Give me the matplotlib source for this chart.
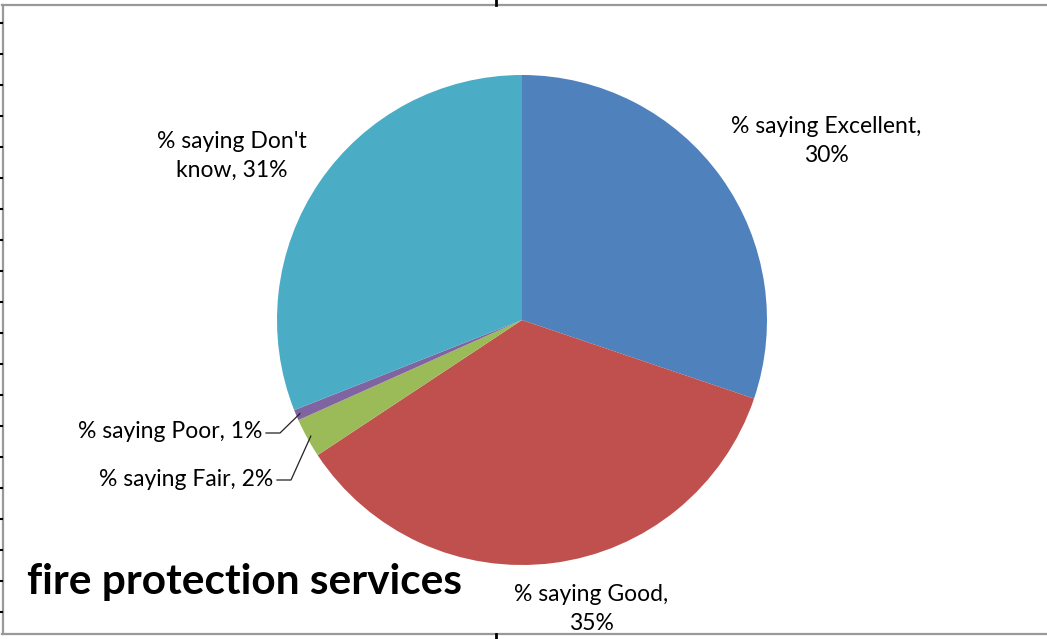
import numpy as np
import matplotlib.pyplot as plt
from matplotlib.lines import Line2D

categories = ['Excellent', 'Good', 'Fair', 'Poor', "Don't know"]
values = [30.2, 35.5, 2.6, 0.7, 31.0]
label_texts = ['% saying Excellent,\n30%', '% saying Good,\n35%',
               '% saying Fair, 2%', '% saying Poor, 1%',
               "% saying Don't\nknow, 31%"]
colors = ['#4F81BD', '#C0504D', '#9BBB59', '#8064A2', '#4BACC6']
title = 'fire protection services'

W, H = 1047, 639
plt.rcParams['font.family'] = ['Lato', 'DejaVu Sans']

fig = plt.figure(figsize=(W / 100, H / 100), dpi=100)
ax = fig.add_axes([0, 0, 1, 1])

cx, cy, r = 522, H - 320, 245
wedges, _ = ax.pie(values, colors=colors, startangle=90, counterclock=False,
                   center=(cx, cy), radius=r, frame=True)
ax.set_xlim(0, W)
ax.set_ylim(0, H)
ax.axis('off')

fs = 16.5
ls = 1.45
# big labels, centred
ax.text(826, H - 141, label_texts[0], ha='center', va='center', fontsize=fs,
        linespacing=ls)
ax.text(591, H - 609, label_texts[1], ha='center', va='center', fontsize=fs,
        linespacing=ls)
ax.text(232, H - 156, label_texts[4], ha='center', va='center', fontsize=fs,
        linespacing=ls)

# small slices with leader lines
for i, (tx, ty) in [(2, (273, 479)), (3, (262, 432))]:
    w = wedges[i]
    mid = np.deg2rad((w.theta1 + w.theta2) / 2)
    ax_, ay_ = cx + (r - 4) * np.cos(mid), cy + (r - 4) * np.sin(mid)
    ax.text(tx, H - ty, label_texts[i], ha='right', va='center', fontsize=fs)
    ax.plot([tx + 4, tx + 18, ax_], [H - ty - 1, H - ty - 1, ay_],
            color='#222222', lw=0.9)

ax.text(27, H - 582, title, ha='left', va='center', fontsize=30.5,
        fontweight='bold')

# chart frame and stray tick marks
gray = '#999999'
fig.add_artist(Line2D([2.5 / W, 2.5 / W], [1 - 5 / H, 1 - 634 / H], color=gray, lw=1.6))
fig.add_artist(Line2D([2 / W, 1], [1 - 5 / H, 1 - 5 / H], color=gray, lw=1.6))
fig.add_artist(Line2D([2 / W, 1], [1 - 634 / H, 1 - 634 / H], color=gray, lw=1.6))
for k in range(20):
    y = 1 - (22.7 + 31 * k) / H
    fig.add_artist(Line2D([0, 2 / W], [y, y], color='black', lw=1.5))
fig.add_artist(Line2D([496 / W, 496 / W], [1, 1 - 5 / H], color='black', lw=2))
fig.add_artist(Line2D([496 / W, 496 / W], [0, 1 - 634 / H], color='black', lw=2))

fig.savefig('out.png', dpi=100)
